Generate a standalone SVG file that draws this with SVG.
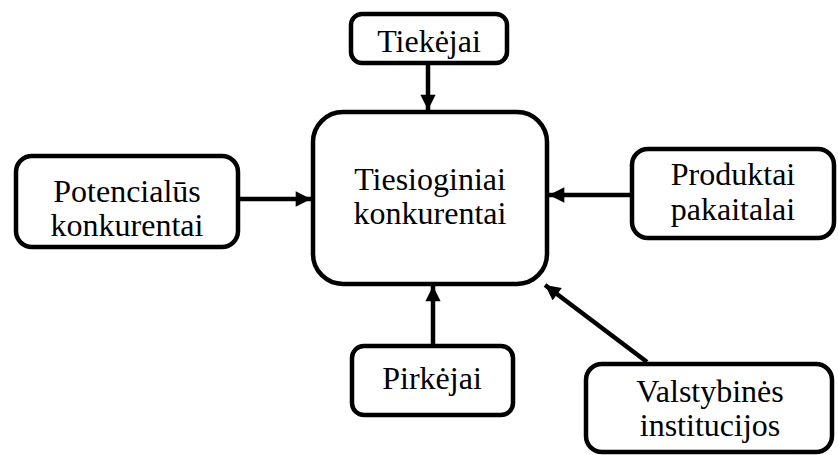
<svg xmlns="http://www.w3.org/2000/svg" width="838" height="455" viewBox="0 0 838 455">
  <style>
    .box { fill: #ffffff; stroke: #000000; stroke-width: 4.5; }
    .lbl { font-family: "Liberation Serif", "Times New Roman", serif; font-size: 32px; fill: #000000; text-anchor: middle; }
    .conn { stroke: #000000; stroke-width: 4.5; fill: none; marker-end: url(#head); }
  </style>
  <defs>
    <marker id="head" viewBox="0 0 10 10" refX="10" refY="5" markerWidth="3.6" markerHeight="3.4" orient="auto" markerUnits="strokeWidth">
      <path d="M0,0 L10,5 L0,10 Z" fill="#000000"/>
    </marker>
  </defs>

  <!-- connectors -->
  <g id="connectors">
    <line class="conn" x1="428" y1="63" x2="428" y2="110"/>
    <line class="conn" x1="238" y1="199" x2="311" y2="199"/>
    <line class="conn" x1="632" y1="195" x2="549" y2="195"/>
    <line class="conn" x1="433" y1="345" x2="433" y2="286"/>
    <line class="conn" x1="647" y1="362" x2="545" y2="285"/>
  </g>

  <g id="tiesioginiai">
    <rect class="box" x="313" y="112" width="234" height="172" rx="30" ry="30"/>
    <text class="lbl" x="430" y="190">Tiesioginiai</text>
    <text class="lbl" x="430" y="224">konkurentai</text>
  </g>

  <g id="tiekejai">
    <rect class="box" x="351" y="14" width="156" height="49" rx="11" ry="11"/>
    <text class="lbl" x="429" y="52">Tiekėjai</text>
  </g>

  <g id="potencialus">
    <rect class="box" x="16" y="156" width="222" height="91" rx="16" ry="16"/>
    <text class="lbl" x="127" y="202">Potencialūs</text>
    <text class="lbl" x="127" y="236">konkurentai</text>
  </g>

  <g id="produktai">
    <rect class="box" x="632" y="149" width="202" height="89" rx="16" ry="16"/>
    <text class="lbl" x="733" y="185">Produktai</text>
    <text class="lbl" x="733" y="220">pakaitalai</text>
  </g>

  <g id="pirkejai">
    <rect class="box" x="352" y="346" width="161" height="69" rx="12" ry="12"/>
    <text class="lbl" x="432" y="389">Pirkėjai</text>
  </g>

  <g id="valstybines">
    <rect class="box" x="586" y="364" width="246" height="88" rx="16" ry="16"/>
    <text class="lbl" x="710" y="402">Valstybinės</text>
    <text class="lbl" x="710" y="436">institucijos</text>
  </g>
</svg>
